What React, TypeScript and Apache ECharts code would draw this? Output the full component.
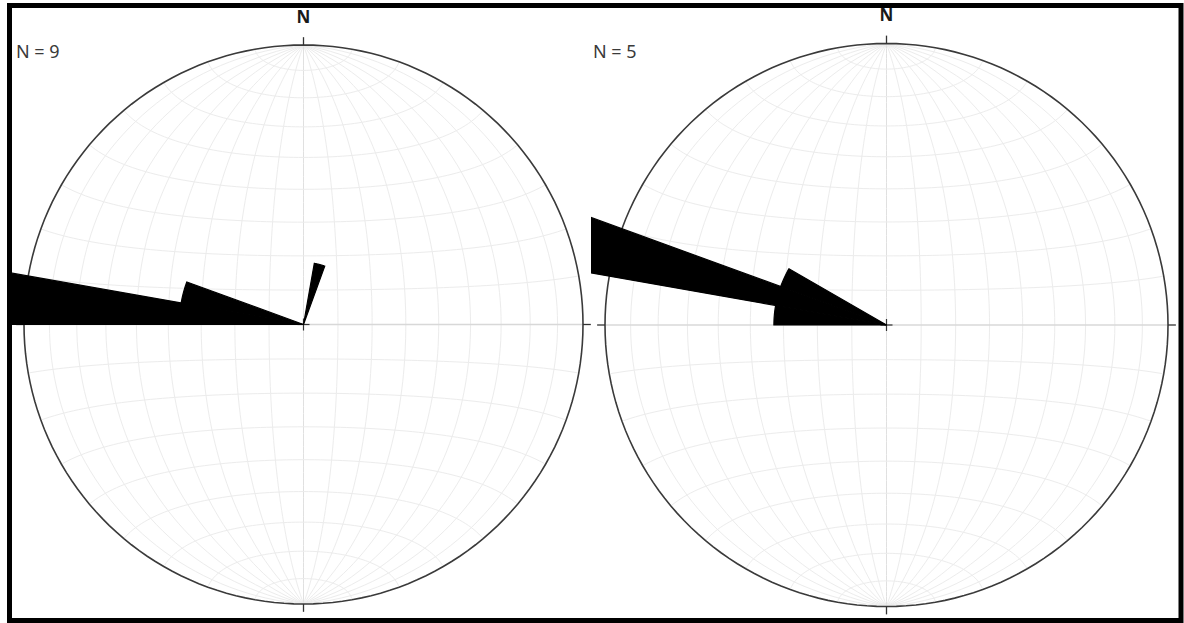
import React, { useEffect, useRef } from "react";
import * as echarts from "echarts";

// ---------------- Data ----------------
const northLabel = "N";
const binWidth = 10; // degrees per rose petal
// left net: bin start azimuths (deg) and counts
const leftBinStarts = [10, 270, 280];
const leftBinCounts = [1, 6, 2];
// right net
const rightBinStarts = [270, 280, 290];
const rightBinCounts = [1, 3, 1];
const rimPercent = 50; // rose scale: percentage reached at the net's rim
const graticuleStep = 10; // Schmidt net spacing (deg)

// ---------------- Layout ----------------
const W = 1184;
const H = 623;
const TOP = 8;
const BOTTOM = 618;
const panels = [
  { cx: 303.5, cy: 324.5, r: 279.5, left: 8, right: 591, starts: leftBinStarts, counts: leftBinCounts, labelX: 16 },
  { cx: 886.5, cy: 325, r: 281.5, left: 591, right: 1180, starts: rightBinStarts, counts: rightBinCounts, labelX: 593 },
];

const D2R = Math.PI / 180;

// Lambert azimuthal equal-area (Schmidt net) with N-S polar axis
function schmidt(latDeg: number, lonDeg: number): number[] {
  const phi = latDeg * D2R;
  const lam = lonDeg * D2R;
  const c = 1 + Math.cos(phi) * Math.cos(lam);
  const k = Math.sqrt(2 / Math.max(c, 1e-9));
  const rp = rimPercent / Math.SQRT2;
  return [rp * k * Math.cos(phi) * Math.sin(lam), rp * k * Math.sin(phi)];
}

function netData(): number[][] {
  const items: number[][] = [];
  for (let l = -90 + graticuleStep; l < 90; l += graticuleStep) items.push([0, l]);
  for (let p = -90 + graticuleStep; p < 90; p += graticuleStep) items.push([1, p]);
  items.push([2, 0]); // primitive circle
  items.push([3, 0]); // rim ticks
  items.push([4, 0]); // centre cross
  items.push([5, 0]); // N label
  return items;
}

function renderNet(params: any, api: any) {
  const kind = api.value(0);
  const v = api.value(1);
  const pts: number[][] = [];
  if (kind === 0) {
    for (let p = -90; p <= 90; p += 2) pts.push(api.coord(schmidt(p, v)));
    return {
      type: "polyline",
      shape: { points: pts },
      style: { stroke: v === 0 ? "#e0e0e0" : "#ececec", lineWidth: 1, fill: "none" },
      silent: true,
    };
  }
  if (kind === 1) {
    for (let l = -90; l <= 90; l += 2) pts.push(api.coord(schmidt(v, l)));
    return {
      type: "polyline",
      shape: { points: pts },
      style: { stroke: v === 0 ? "#d8d8d8" : "#ececec", lineWidth: v === 0 ? 1.5 : 1, fill: "none" },
      silent: true,
    };
  }
  if (kind === 2) {
    for (let a = 0; a <= 360; a += 2) pts.push(api.coord([rimPercent * Math.sin(a * D2R), rimPercent * Math.cos(a * D2R)]));
    return {
      type: "polyline",
      shape: { points: pts },
      style: { stroke: "#3a3a3a", lineWidth: 1.6, fill: "none" },
      silent: true,
    };
  }
  if (kind === 3) {
    const children: any[] = [];
    for (let a = 0; a < 360; a += 90) {
      const s = Math.sin(a * D2R);
      const c = Math.cos(a * D2R);
      const p0 = api.coord([rimPercent * s, rimPercent * c]);
      const p1 = api.coord([(rimPercent + 1.4) * s, (rimPercent + 1.4) * c]);
      children.push({
        type: "line",
        shape: { x1: p0[0], y1: p0[1], x2: p1[0], y2: p1[1] },
        style: { stroke: "#333", lineWidth: 1.3 },
      });
    }
    return { type: "group", children, silent: true };
  }
  if (kind === 4) {
    const c0 = api.coord([0, 0]);
    const d = 6;
    return {
      type: "group",
      silent: true,
      children: [
        { type: "line", shape: { x1: c0[0] - d, y1: c0[1], x2: c0[0] + d, y2: c0[1] }, style: { stroke: "#333", lineWidth: 1.2 } },
        { type: "line", shape: { x1: c0[0], y1: c0[1] - d, x2: c0[0], y2: c0[1] + d }, style: { stroke: "#333", lineWidth: 1.2 } },
      ],
    };
  }
  const t = api.coord([0, rimPercent + 5.1]);
  return {
    type: "text",
    x: t[0],
    y: t[1],
    silent: true,
    style: {
      text: northLabel,
      fill: "#1a1a1a",
      fontSize: 17,
      fontWeight: "bold",
      fontFamily: "Noto Sans",
      align: "center",
      verticalAlign: "middle",
    },
  };
}

function renderPetal(params: any, api: any) {
  const a0 = api.value(0);
  const a1 = api.value(1);
  const r = api.value(2);
  const pts: number[][] = [api.coord([0, 0])];
  const n = 24;
  for (let k = 0; k <= n; k++) {
    const a = (a0 + ((a1 - a0) * k) / n) * D2R;
    pts.push(api.coord([r * Math.sin(a), r * Math.cos(a)]));
  }
  return {
    type: "polygon",
    shape: { points: pts },
    style: { fill: "#000", stroke: "#000", lineWidth: 1.2, lineJoin: "miter" },
  };
}

function buildOption() {
  const grid: any[] = [];
  const xAxis: any[] = [];
  const yAxis: any[] = [];
  const series: any[] = [];
  const graphic: any[] = [];
  panels.forEach((p, i) => {
    const s = p.r / rimPercent;
    grid.push({ left: p.left, top: TOP, width: p.right - p.left, height: BOTTOM - TOP, containLabel: false });
    xAxis.push({ type: "value", gridIndex: i, min: (p.left - p.cx) / s, max: (p.right - p.cx) / s, show: false, splitLine: { show: false } });
    yAxis.push({ type: "value", gridIndex: i, min: (p.cy - BOTTOM) / s, max: (p.cy - TOP) / s, show: false, splitLine: { show: false } });
    const total = p.counts.reduce((a, b) => a + b, 0);
    series.push({
      type: "custom",
      name: "net" + i,
      xAxisIndex: i,
      yAxisIndex: i,
      clip: false,
      z: 1,
      dimensions: ["kind", "v"],
      encode: { x: 0, y: 1 },
      renderItem: renderNet,
      data: netData(),
    });
    series.push({
      type: "custom",
      name: "rose" + i,
      xAxisIndex: i,
      yAxisIndex: i,
      clip: true,
      z: 3,
      dimensions: ["a0", "a1", "pct"],
      encode: { x: 0, y: 1 },
      renderItem: renderPetal,
      data: p.starts.map((st, k) => [st, st + binWidth, (p.counts[k] / total) * 100]),
    });
    graphic.push({
      type: "text",
      left: p.labelX,
      top: 42,
      z: 10,
      style: { text: "N = " + total, fill: "#3a3a3a", fontSize: 18, fontFamily: "Noto Sans" },
    });
  });
  graphic.push({
    type: "rect",
    z: 100,
    shape: { x: 9.5, y: 5.5, width: 1171.5, height: 615 },
    style: { fill: "none", stroke: "#000", lineWidth: 5 },
  });
  return { animation: false, backgroundColor: "#fff", grid, xAxis, yAxis, series, graphic };
}

export default function App() {
  const ref = useRef<HTMLDivElement>(null);
  useEffect(() => {
    const chart = echarts.init(ref.current as HTMLDivElement, null, { renderer: "svg" });
    chart.setOption(buildOption() as any);
    return () => chart.dispose();
  }, []);
  return (
    <div
      ref={ref}
      style={{ position: "fixed", left: 0, top: 0, width: W, height: H, background: "#fff" }}
    />
  );
}
